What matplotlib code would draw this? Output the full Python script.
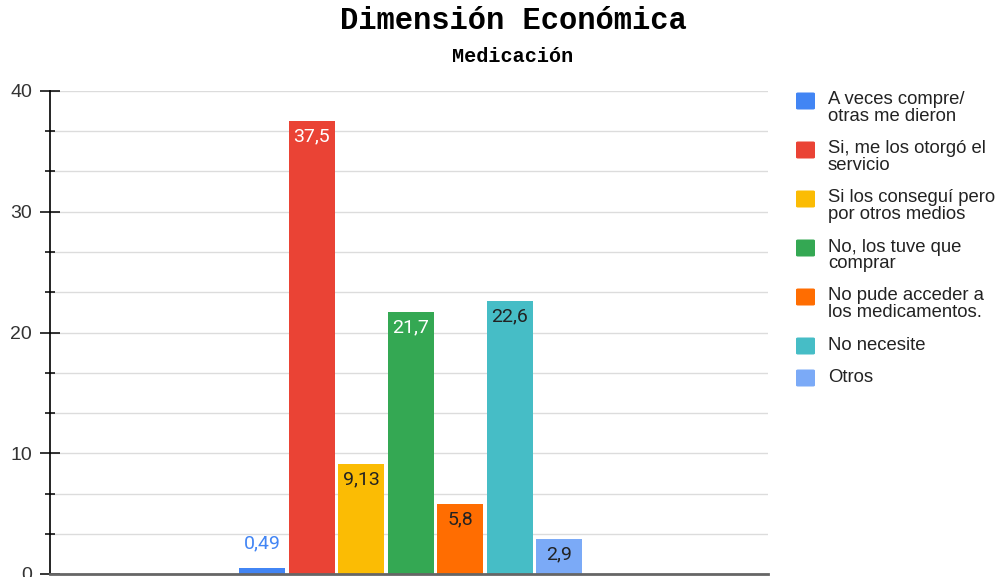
import matplotlib
matplotlib.use("Agg")
import matplotlib.pyplot as plt
from matplotlib.ticker import MultipleLocator
from matplotlib.patches import FancyBboxPatch

# Survey results: medication access (percent)
categories = [
    "A veces compre/\notras me dieron",
    "Si, me los otorgó el\nservicio",
    "Si los conseguí pero\npor otros medios",
    "No, los tuve que\ncomprar",
    "No pude acceder a\nlos medicamentos.",
    "No necesite",
    "Otros",
]
values = [0.49, 37.5, 9.13, 21.7, 5.8, 22.6, 2.9]
value_labels = ["0,49", "37,5", "9,13", "21,7", "5,8", "22,6", "2,9"]
y_ticks = [0, 10, 20, 30, 40]

colors = ["#4285F4", "#EA4335", "#FBBC04", "#34A853", "#FF6D01", "#46BDC6", "#7BAAF7"]
label_colors = ["#4285F4", "white", "#222222", "white", "#222222", "#222222", "#222222"]

W, H = 1005, 577
fig = plt.figure(figsize=(W / 100, H / 100), dpi=100)
ax = fig.add_axes([50 / W, 3 / H, 718 / W, 483 / H])

x = list(range(len(values)))
ax.bar(x, values, width=0.93, color=colors, zorder=3)

ax.set_xlim(-4.29, 10.22)
ax.set_ylim(0, 40)

# value labels: inside the top of tall bars, above very short ones
for xi, v, lab, c in zip(x, values, value_labels, label_colors):
    dy = 18 if v < 1.5 else -11
    ax.annotate(lab, (xi, v), xytext=(0, dy), textcoords="offset points",
                ha="center", va="center", color=c, fontsize=14,
                family="Roboto", zorder=4)

# axes styling
ax.set_xticks([])
ax.set_yticks(y_ticks)
ax.yaxis.set_minor_locator(MultipleLocator(10 / 3))
ax.tick_params(axis="y", which="major", direction="inout", length=13.7, width=1.1,
               color="black", pad=6, labelsize=14, labelcolor="#333333")
ax.tick_params(axis="y", which="minor", direction="inout", length=7.2, width=1.1,
               color="black")
for lbl in ax.get_yticklabels():
    lbl.set_family("Liberation Sans")
ax.yaxis.grid(True, which="both", color="#dcdcdc", lw=1, zorder=0)
ax.set_axisbelow(True)
for s in ("top", "right"):
    ax.spines[s].set_visible(False)
ax.spines["left"].set_color("black")
ax.spines["left"].set_linewidth(1.2)
ax.spines["left"].set_zorder(5)
ax.spines["bottom"].set_color("#666666")
ax.spines["bottom"].set_linewidth(2)
ax.spines["bottom"].set_zorder(5)

# titles
fig.text(513 / W, 1 - 21 / H, "Dimensión Económica", ha="center", va="center",
         family="Liberation Mono", weight="bold", fontsize=22, color="black")
fig.text(513 / W, 1 - 56 / H, "Medicación", ha="center", va="center",
         family="Liberation Mono", weight="bold", fontsize=14.5, color="black")

# legend on the right, square aligned to first text line
y = 101
for lab, c in zip(categories, colors):
    nlines = lab.count("\n") + 1
    sq = FancyBboxPatch((796 / W, 1 - (y + 8.5) / H), 19 / W, 17 / H,
                        boxstyle="round,pad=0,rounding_size=0.002",
                        transform=fig.transFigure, facecolor=c, edgecolor="none")
    fig.add_artist(sq)
    fig.text(828 / W, 1 - (y - 9.5) / H, lab, ha="left", va="top",
             family="Liberation Sans", fontsize=13.3, color="#222222",
             linespacing=0.98)
    y += 49 if nlines == 2 else 32

fig.savefig("out.png", dpi=100)
